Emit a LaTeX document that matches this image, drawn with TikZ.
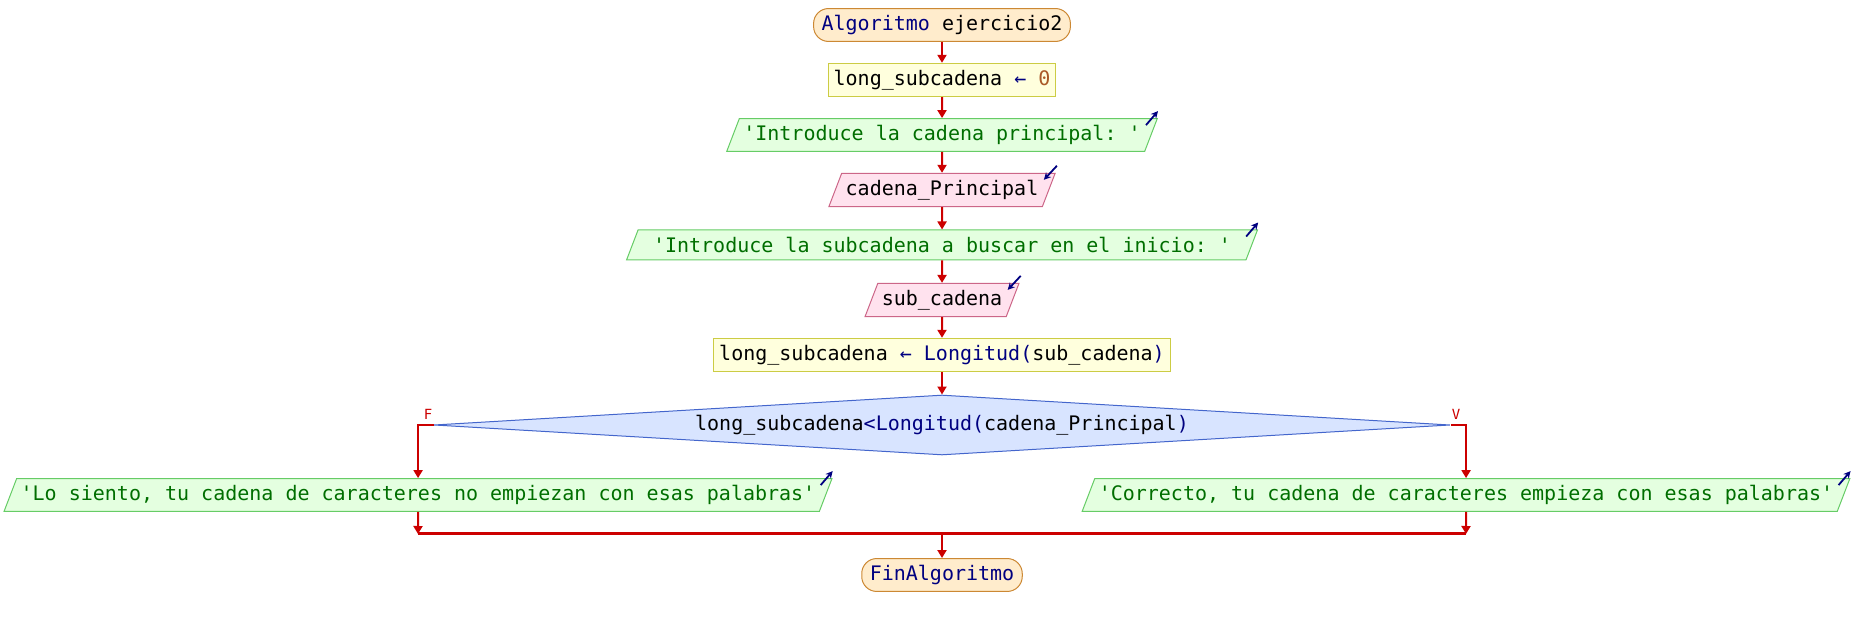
\documentclass[tikz,border=0pt]{standalone}
\usepackage{fontspec}
\setmonofont{DejaVu Sans Mono}
\usetikzlibrary{shapes.geometric, arrows.meta}

\definecolor{iniciofill}{RGB}{255,236,204}
\definecolor{iniciodraw}{RGB}{204,136,51}
\definecolor{asigfill}{RGB}{255,255,221}
\definecolor{asigdraw}{RGB}{204,204,68}
\definecolor{escfill}{RGB}{228,255,224}
\definecolor{escdraw}{RGB}{102,204,102}
\definecolor{esctexto}{RGB}{0,110,0}
\definecolor{leerfill}{RGB}{255,226,238}
\definecolor{leerdraw}{RGB}{204,102,136}
\definecolor{condfill}{RGB}{216,228,255}
\definecolor{conddraw}{RGB}{68,102,204}
\definecolor{rojo}{RGB}{204,0,0}
\definecolor{clave}{RGB}{0,0,128}
\definecolor{numero}{RGB}{170,90,40}

\tikzset{
  caja/.style={font=\fontsize{10}{12}\selectfont\ttfamily, minimum height=15pt, line width=0.5pt},
  inicio/.style={caja, draw=iniciodraw, fill=iniciofill, rounded corners=7.5pt, inner xsep=4pt},
  asignar/.style={caja, draw=asigdraw, fill=asigfill, inner xsep=2.8pt},
  entrada/.style={caja, shape=trapezium, trapezium left angle=69, trapezium right angle=111, inner xsep=2pt},
  escribir/.style={entrada, draw=escdraw, fill=escfill, text=esctexto},
  leer/.style={entrada, draw=leerdraw, fill=leerfill},
  decision/.style={caja, shape=diamond, draw=conddraw, fill=condfill, aspect=17, inner sep=0pt, minimum width=508pt, minimum height=30pt},
  flecha/.style={draw=rojo, line width=1pt, -{Triangle[length=4pt,width=4.5pt]}},
  union/.style={draw=rojo, line width=1.5pt},
  icono/.style={draw=clave, line width=0.9pt, -{Stealth[length=3.5pt,width=3.5pt]}},
  etiq/.style={text=rojo, font=\fontsize{7}{8}\selectfont\ttfamily, inner sep=0pt}
}

\begin{document}
\begin{tikzpicture}[x=0.5pt,y=-0.5pt]
\useasboundingbox (0,0) rectangle (1854,625);

%los bloques
\node[inicio] (inicio) at (942,25) {\textcolor{clave}{Algoritmo} ejercicio2};
\node[asignar] (asig1) at (942,80) {long\_subcadena \textcolor{clave}{←} \textcolor{numero}{0}};
\node[escribir] (esc1) at (942,135) {'Introduce la cadena principal: '};
\node[leer] (leer1) at (942,190) {cadena\_Principal};
\node[escribir] (esc2) at (942,245) {'Introduce la subcadena a buscar en el inicio: '};
\node[leer] (leer2) at (942,300) {sub\_cadena};
\node[asignar] (asig2) at (942,355) {long\_subcadena \textcolor{clave}{← Longitud(}sub\_cadena\textcolor{clave}{)}};
\node[decision] (cond) at (942,425) {long\_subcadena\textcolor{clave}{<Longitud(}cadena\_Principal\textcolor{clave}{)}};
\node[escribir] (escno) at (418,495) {'Lo siento, tu cadena de caracteres no empiezan con esas palabras'};
\node[escribir] (escsi) at (1466,495) {'Correcto, tu cadena de caracteres empieza con esas palabras'};
\node[inicio] (fin) at (942,575) {\textcolor{clave}{FinAlgoritmo}};

%las flechas
\draw[flecha] (inicio) -- (asig1);
\draw[flecha] (asig1) -- (esc1);
\draw[flecha] (esc1) -- (leer1);
\draw[flecha] (leer1) -- (esc2);
\draw[flecha] (esc2) -- (leer2);
\draw[flecha] (leer2) -- (asig2);
\draw[flecha] (asig2) -- (cond);

\draw[flecha] (cond.west) -| (escno.north);
\draw[flecha] (cond.east) -| (escsi.north);
\node[etiq] (lf) at (428,414) {F};
\node[etiq] (lv) at (1456,414) {V};

\coordinate (unionI) at (418,534);
\coordinate (unionD) at (1466,534);
\coordinate (unionC) at (942,534);
\draw[union] (unionI) -- (unionD);
\draw[flecha] (escno) -- (unionI);
\draw[flecha] (escsi) -- (unionD);
\draw[flecha] (unionC) -- (fin);

%los iconos
\foreach \n in {esc1,esc2,escno,escsi}
  \draw[icono] ([shift={(-12,7)}]\n.top right corner) -- ([shift={(0,-7)}]\n.top right corner);
\foreach \n in {leer1,leer2}
  \draw[icono] ([shift={(1,-7)}]\n.top right corner) -- ([shift={(-12,7)}]\n.top right corner);

\end{tikzpicture}
\end{document}
